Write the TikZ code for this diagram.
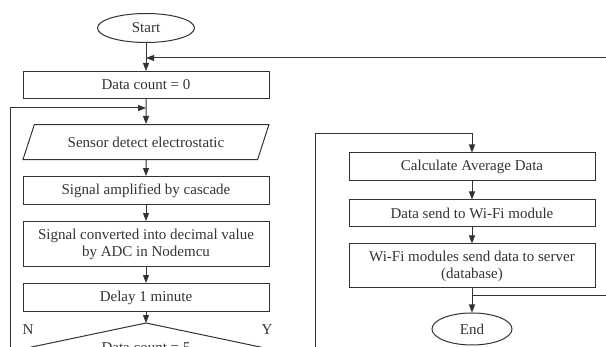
\documentclass[tikz,border=0pt]{standalone}
\usepackage{fontspec}
\setmainfont{Liberation Serif}
\usetikzlibrary{arrows.meta}
\usetikzlibrary{shapes.geometric}
\usetikzlibrary{positioning}

\begin{document}
\begin{tikzpicture}[x=1pt,y=-1pt,->,>={Triangle[length=8pt,width=6pt]},
		color=black!80,line width=1pt,
		every node/.style={font=\fontsize{15}{17}\selectfont},
		box/.style={draw,rectangle,minimum width=246pt,minimum height=28pt,inner sep=2pt,align=center},
		term/.style={draw,ellipse,inner sep=0pt},
		datain/.style={draw,trapezium,trapezium left angle=52,trapezium right angle=128,trapezium stretches body,minimum width=246pt,minimum height=35pt,inner sep=2pt},
		decide/.style={draw,diamond,aspect=4.75,minimum width=238pt,minimum height=50pt,inner sep=0pt,outer sep=0pt}]
	\useasboundingbox (0,0) rectangle (606,347);
	\clip (0,0) rectangle (606,347);

	% left column: reading the sensor
	\node[term,minimum width=97pt,minimum height=29pt] (start) at (146,28) {Start};
	\node[box,minimum height=27pt,below=28pt of start] (count) {Data count = 0};
	\node[datain,below=25pt of count] (sensor) {Sensor detect electrostatic};
	\node[box,below=16pt of sensor] (amplify) {Signal amplified by cascade};
	\node[box,minimum height=45pt,below=16pt of amplify] (adc) {Signal converted into decimal value\\by ADC in Nodemcu};
	\node[box,below=16pt of adc] (delay) {Delay 1 minute};
	\node[decide] (check) at (146,348) {Data count = 5};
	\node (no) at (28,330) {N};
	\node (yes) at (267,330) {Y};

	% right column: sending to the server
	\node[box] (average) at (472,167) {Calculate Average Data};
	\node[box,minimum height=27pt,below=18pt of average] (wifi) {Data send to Wi-Fi module};
	\node[box,minimum height=44pt,below=16pt of wifi] (server) {Wi-Fi modules send data to server\\(database)};
	\node[term,minimum width=80pt,minimum height=32pt,below=24pt of server] (end) {End};

	% joints of the return lines
	\coordinate (topjoin) at (146,58);
	\coordinate (loopin) at (146,108);
	\coordinate (nreturn) at (10,360);
	\coordinate (ystart) at (315,360);
	\coordinate (ytop) at (472,134);
	\coordinate (endjoin) at (472,296);
	\coordinate (rturn) at (625,296);

	\draw (start) -- (count);
	\draw (count) -- (sensor);
	\draw (sensor) -- (amplify);
	\draw (amplify) -- (adc);
	\draw (adc) -- (delay);
	\draw (delay) -- (check);
	\draw (nreturn) |- (loopin);
	\draw (endjoin) -- (rturn) |- (topjoin);
	\draw (ystart) |- (ytop) -- (average);
	\draw (average) -- (wifi);
	\draw (wifi) -- (server);
	\draw (server) -- (end);
\end{tikzpicture}
\end{document}
